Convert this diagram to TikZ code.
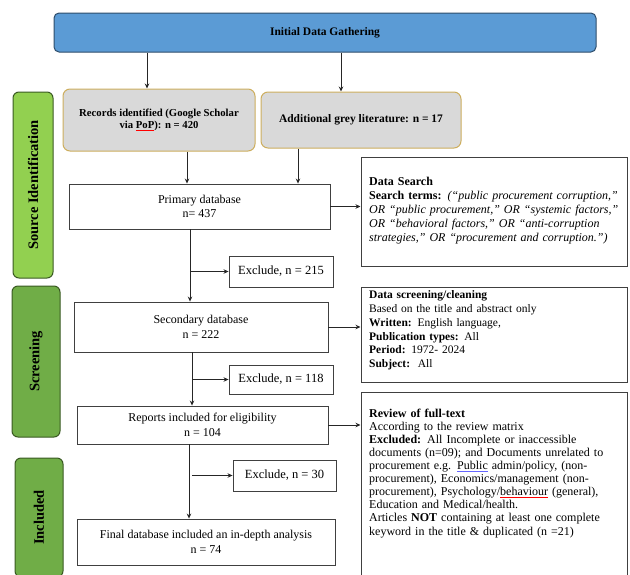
\documentclass[tikz,border=0pt]{standalone}
\usepackage{fontspec}
\setmainfont{Liberation Serif}
\usetikzlibrary{arrows.meta,positioning}

\definecolor{gatherblue}{HTML}{5B9BD5}
\definecolor{gatheredge}{HTML}{2E4D6B}
\definecolor{recgrey}{HTML}{D9D9D9}
\definecolor{recedge}{HTML}{CDAE5E}
\definecolor{idgreen}{HTML}{92D050}
\definecolor{phasegreen}{HTML}{70AD47}
\definecolor{phaseedge}{HTML}{3A5A22}

\newcommand\spellmark[2]{\textcolor{#1}{\underline{\textcolor{black}{#2}}}}

\tikzset{
  topbox/.style={draw=gatheredge, fill=gatherblue, rounded corners=5pt, line width=1pt,
    font=\bfseries\fontsize{11.5}{13}\selectfont},
  srcbox/.style={draw=recedge, fill=recgrey, rounded corners=7pt, line width=1pt, align=center,
    font=\bfseries\fontsize{10.7}{12}\selectfont},
  phase/.style={draw=phaseedge, rounded corners=6pt, line width=1pt, rotate=90,
    font=\bfseries\fontsize{14.5}{16}\selectfont},
  dbbox/.style={draw=black!75, line width=0.9pt, align=center,
    font=\fontsize{12}{14.5}\selectfont},
  frame/.style={draw=black!75, line width=1pt},
  note/.style={anchor=north west, inner sep=0pt, align=left, text width=256pt},
  arr/.style={-{Stealth[length=5pt,width=4.5pt]}, line width=0.8pt, black!85}
}

\begin{document}
\begin{tikzpicture}[x=1pt,y=-1pt]
  % 1. Page frame
  \useasboundingbox (0,0) rectangle (630,574);
  \clip (0,0) rectangle (630,574);

  % 2. Phase bars on the left
  \node[phase, fill=idgreen, minimum width=186pt, minimum height=40pt] (srcid) at (33,185) {Source Identification};
  \node[phase, fill=phasegreen, minimum width=151pt, minimum height=48pt] (screen) at (36,361.5) {Screening};
  \node[phase, fill=phasegreen, minimum width=119pt, minimum height=48pt] (incl) at (39,517.5) {Included};

  % 3. Gathering and sources
  \node[topbox, minimum width=542pt, minimum height=39pt] (gather) at (325,32.5) {Initial Data Gathering};
  \node[srcbox, minimum width=192pt, minimum height=62pt] (records) at (159,120)
    {Records identified (Google Scholar\\ via \spellmark{red}{PoP}): n = 420};
  \node[srcbox, minimum width=200pt, minimum height=56pt, font=\bfseries\fontsize{11.5}{13}\selectfont] (grey) at (361,120)
    {Additional grey literature: n = 17};

  % 4. Database chain
  \node[dbbox, minimum width=261pt, minimum height=45pt] (primary) at (199.5,206.5) {Primary database\\ n= 437};
  \node[dbbox, minimum width=254pt, minimum height=50pt] (secondary) at (201,327) {Secondary database\\ n = 222};
  \node[dbbox, minimum width=251pt, minimum height=38pt] (reports) at (202.5,425) {Reports included for eligibility\\ n = 104};
  \node[dbbox, minimum width=258pt, minimum height=46pt] (final) at (206,542) {Final database included an in-depth analysis\\ n = 74};

  % 5. Exclusions
  \node[dbbox, minimum width=104pt, minimum height=31pt, font=\fontsize{12.5}{14}\selectfont] (exc1) at (281,271.5) {Exclude, n = 215};
  \node[dbbox, minimum width=104pt, minimum height=29pt, font=\fontsize{12.5}{14}\selectfont] (exc2) at (281,379.5) {Exclude, n = 118};
  \node[dbbox, minimum width=103pt, minimum height=31pt, font=\fontsize{12.5}{14}\selectfont] (exc3) at (284.5,475.5) {Exclude, n = 30};

  % 6. Notes on the right (frame, then text)
  \node[frame, minimum width=266pt, minimum height=109pt] (search) at (494,211.5) {};
  \node[note, font=\fontsize{12}{14.2}\selectfont] (searchtxt) at (369,176.5) {%
    \textbf{Data Search}\\
    \textbf{Search terms:} \textit{(“public procurement corruption,”}\\
    \textit{OR “public procurement,” OR “systemic factors,”}\\
    \textit{OR “behavioral factors,” OR “anti-corruption}\\
    \textit{strategies,” OR “procurement and corruption.”)}};

  \node[frame, minimum width=266pt, minimum height=95pt] (clean) at (494,334.5) {};
  \node[note, font=\fontsize{11.5}{13.8}\selectfont] (cleantxt) at (369,290.5) {%
    \textbf{Data screening/cleaning}\\
    Based on the title and abstract only\\
    \textbf{Written:} English language,\\
    \textbf{Publication types:} All\\
    \textbf{Period:} 1972- 2024\\
    \textbf{Subject:}\ \ All};

  \node[frame, minimum width=266pt, minimum height=200pt] (review) at (494,492) {};
  \node[note, font=\fontsize{12}{13.1}\selectfont] (reviewtxt) at (369,408.5) {%
    \textbf{Review of full-text}\\
    According to the review matrix\\
    \textbf{Excluded:} All Incomplete or inaccessible\\
    documents (n=09); and Documents unrelated to\\
    procurement e.g. \spellmark{blue!60}{Public} admin/policy, (non-\\
    procurement), Economics/management (non-\\
    procurement), Psychology/\spellmark{red}{behaviour} (general),\\
    Education and Medical/health.\\
    Articles \textbf{NOT} containing at least one complete\\
    keyword in the title \& duplicated (n =21)};

  % 7. Drop points for the connectors
  \coordinate (recdrop) at (147,0);
  \coordinate (greydrop) at (341,0);
  \coordinate (recjoin) at (187,0);
  \coordinate (greyjoin) at (298,0);
  \coordinate (trunkA) at (190,0);
  \coordinate (trunkB) at (192,0);
  \coordinate (trunkC) at (189,0);

  % 8. Connectors
  \draw[arr] (gather.south -| recdrop) -- (records.north -| recdrop);
  \draw[arr] (gather.south -| greydrop) -- (grey.north -| greydrop);
  \draw[arr] (records.south -| recjoin) -- (primary.north -| recjoin);
  \draw[arr] (grey.south -| greyjoin) -- (primary.north -| greyjoin);

  \draw[arr] (primary.south -| trunkA) -- (secondary.north -| trunkA);
  \draw[arr] (exc1.west -| trunkA) -- (exc1.west);
  \draw[arr] (secondary.south -| trunkB) -- (reports.north -| trunkB);
  \draw[arr] (exc2.west -| trunkB) -- (exc2.west);
  \draw[arr] (reports.south -| trunkC) -- (final.north -| trunkC);
  \draw[arr] (exc3.west -| trunkB) -- (exc3.west);

  \draw[arr] (primary.east) -- (primary.east -| search.west);
  \draw[arr] (secondary.east) -- (secondary.east -| clean.west);
  \draw[arr] (reports.east) -- (reports.east -| review.west);
\end{tikzpicture}
\end{document}
